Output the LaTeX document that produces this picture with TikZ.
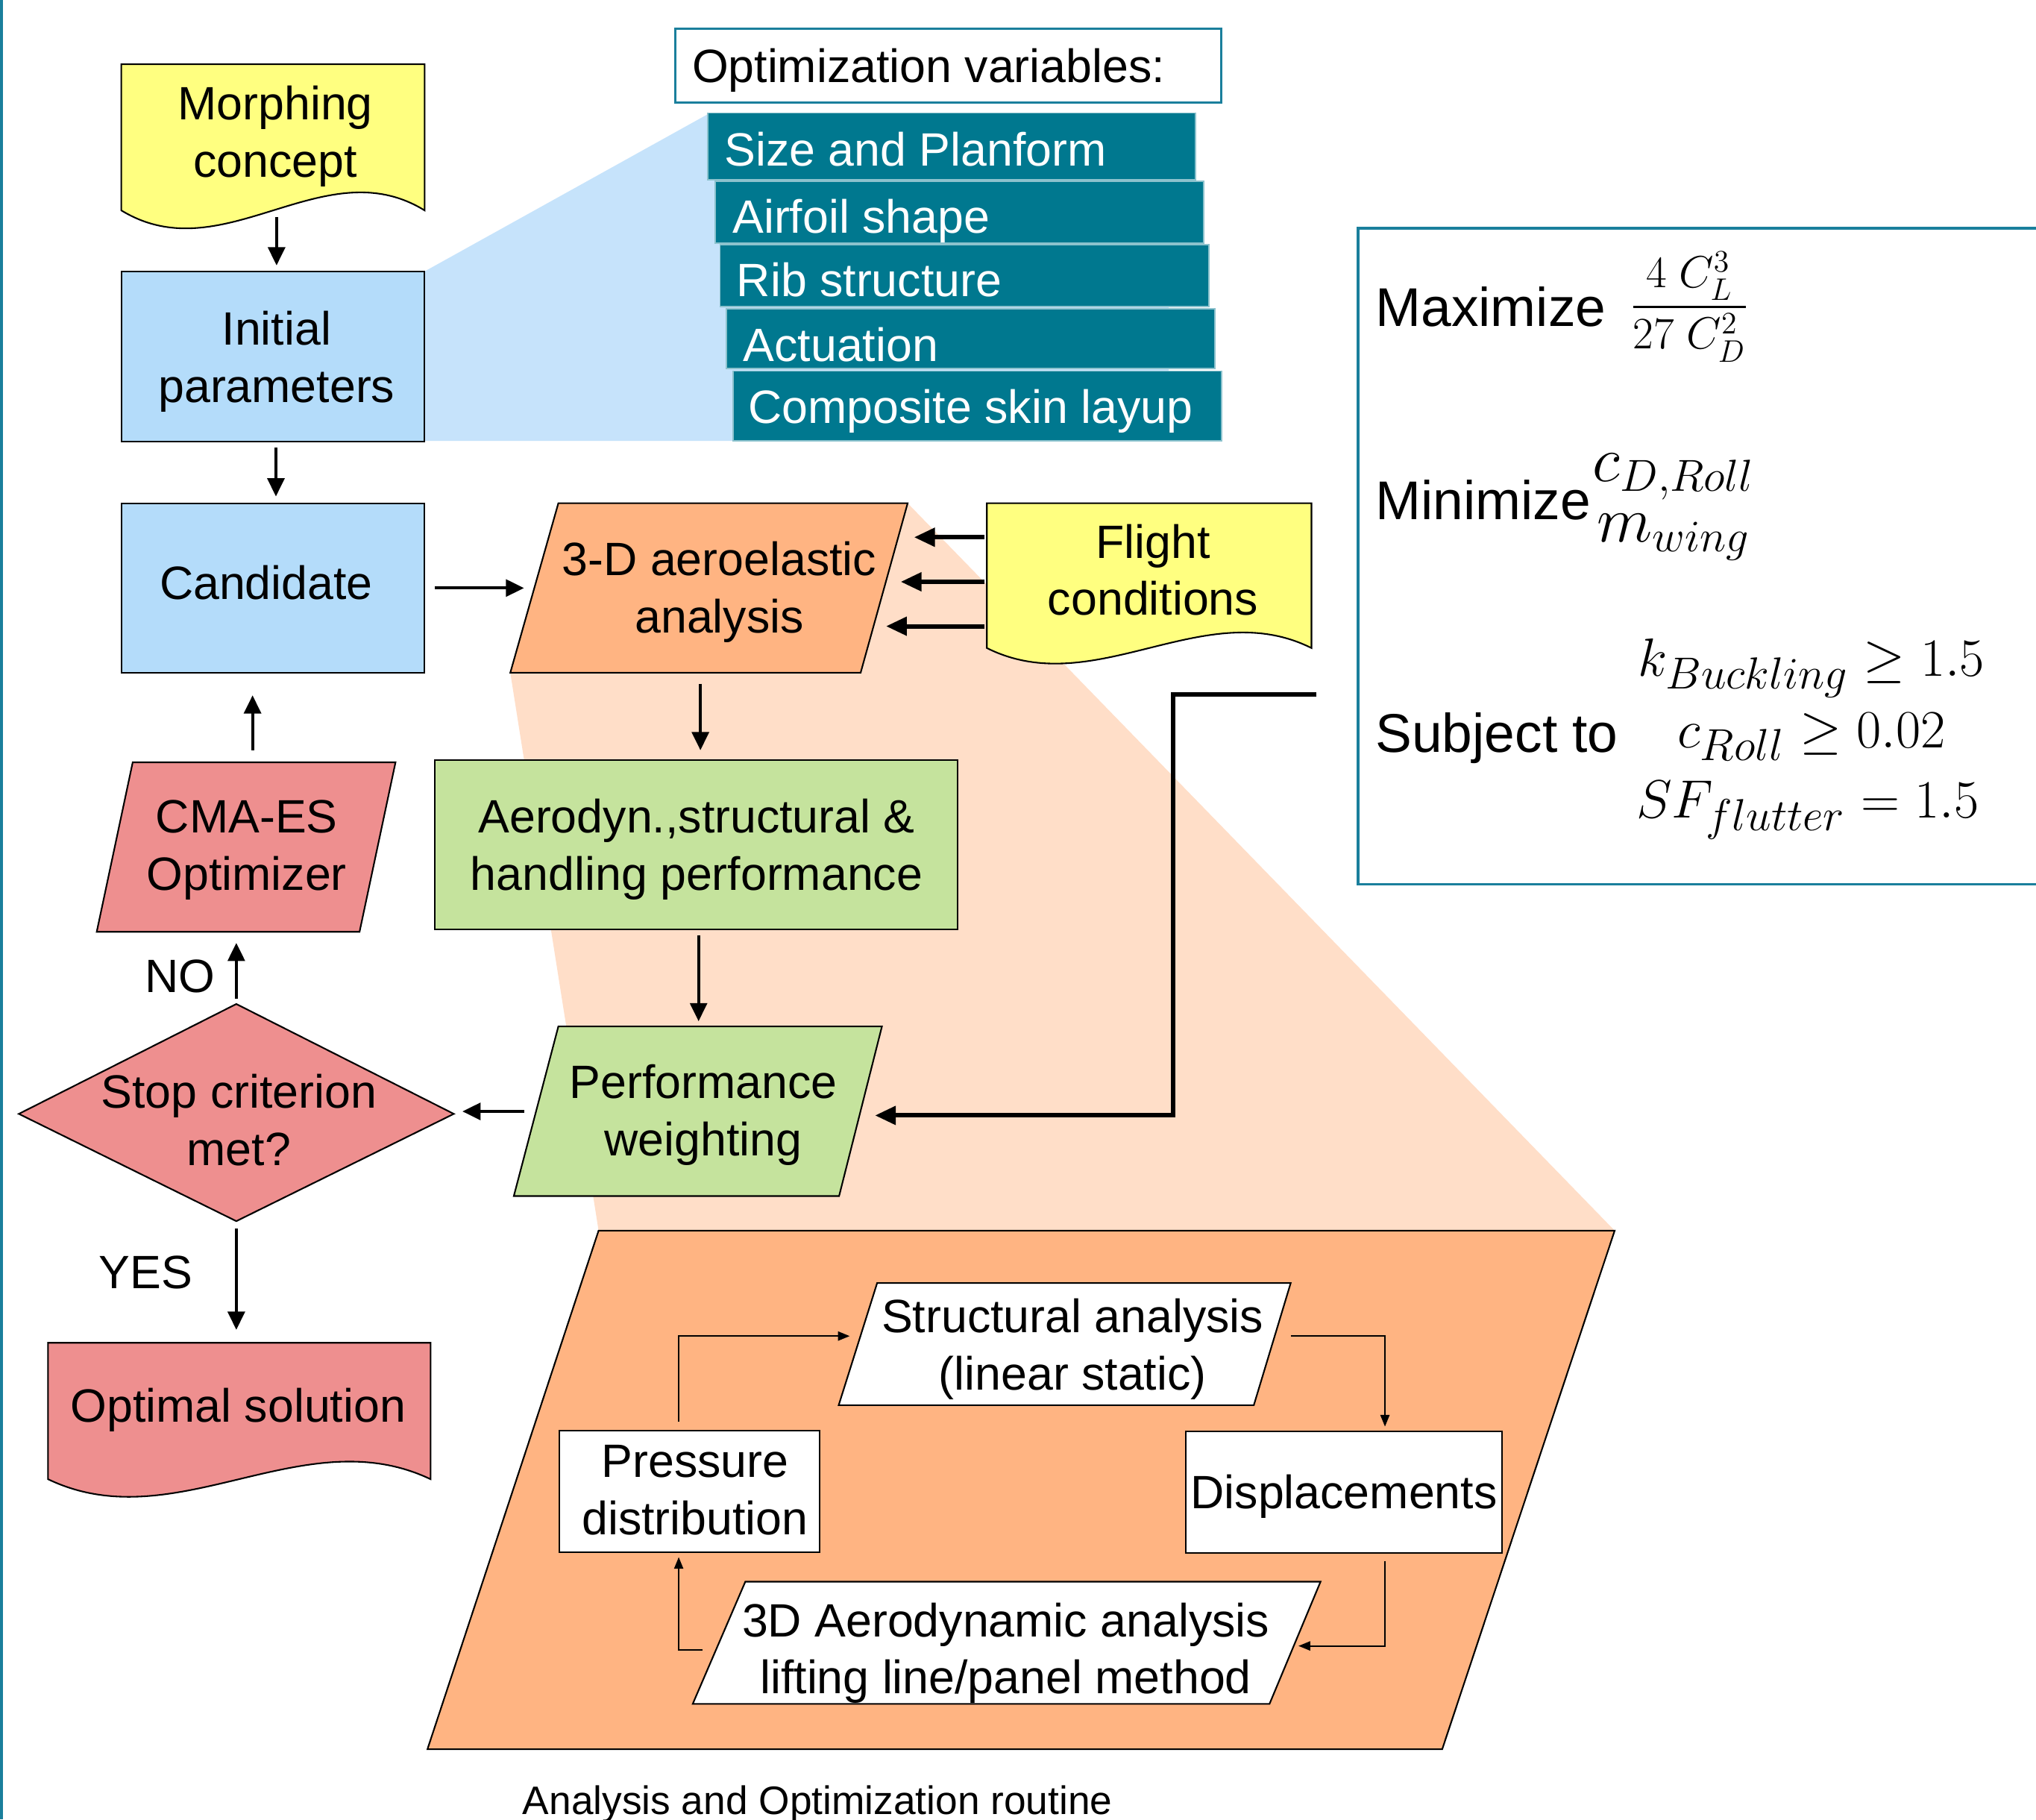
\documentclass[tikz,border=0pt]{standalone}
\usepackage{amsmath}
\usepackage{fontspec}
\setmainfont{Liberation Sans}
\usetikzlibrary{arrows.meta}
\definecolor{boxblue}{HTML}{B4DCFA}
\definecolor{callblue}{HTML}{C6E3FB}
\definecolor{varteal}{HTML}{00788F}
\definecolor{frameteal}{HTML}{1A7F9C}
\definecolor{docyellow}{HTML}{FFFF80}
\definecolor{anaorange}{HTML}{FFB482}
\definecolor{peach}{HTML}{FFDEC8}
\definecolor{perfgreen}{HTML}{C5E39D}
\definecolor{optred}{HTML}{EE8F8F}
\begin{document}
\begin{tikzpicture}[x=0.5pt,y=-0.5pt,
  bx/.style={font=\fontsize{18}{22}\selectfont, align=center, inner sep=0pt},
  lbl/.style={font=\fontsize{18}{22}\selectfont, inner sep=0pt},
  objtxt/.style={font=\fontsize{21}{25}\selectfont, inner sep=0pt, anchor=base west},
  contxt/.style={font=\fontsize{22.7}{26}\selectfont, inner sep=0pt, anchor=base},
  shp/.style={draw=black, line width=0.6pt},
  arr/.style={-{Triangle[length=7pt,width=6.5pt]}, line width=1.2pt},
  farr/.style={-{Triangle[length=8pt,width=7pt]}, line width=1.7pt},
  tarr/.style={-{Triangle[length=4.5pt,width=3.5pt]}, line width=0.6pt},
  varbox/.style={fill=varteal, draw=varteal!45!white, line width=0.5pt},
  vartxt/.style={font=\fontsize{18}{22}\selectfont, text=white, inner sep=0pt, anchor=base west}
]
\useasboundingbox (0,0) rectangle (1568,1401);
\clip (0,0) rectangle (1568,1401);
\fill[white] (0,0) rectangle (1568,1401);
\draw[frameteal, line width=1.2pt] (1,0) -- (1,1401);

% background callouts
\fill[callblue] (327,209) -- (545,88) -- (900,88) -- (900,339.5) -- (327,339.5) -- cycle;
\fill[peach] (699,387.5) -- (1243.5,947.6) -- (461,947.6) -- (393,518) -- cycle;

% optimization variables
\draw[frameteal, line width=1pt, fill=white] (520,22) rectangle (940.6,79);
\node[lbl, anchor=base west] (optvar) at (532.6,63.6) {Optimization variables:};
\draw[varbox] (545,87) rectangle (920.7,138.5);
\node[vartxt] (v1) at (557.5,127.9) {Size and Planform};
\draw[varbox] (551,139.6) rectangle (927,187.4);
\node[vartxt] (v2) at (563.8,179.4) {Airfoil shape};
\draw[varbox] (554.5,188.5) rectangle (931,236);
\node[vartxt] (v3) at (567,228.3) {Rib structure};
\draw[varbox] (559.4,237.8) rectangle (935.6,283.9);
\node[vartxt] (v4) at (572,278.2) {Actuation};
\draw[varbox] (564.4,285.7) rectangle (940.6,339.5);
\node[vartxt] (v5) at (576,326) {Composite skin layup};

% left column
\path[shp, fill=docyellow] (93.4,49.5) -- (327,49.5) -- (327,162) .. controls (249,114) and (172,210) .. (93.4,162) -- cycle;
\node[bx] (morph) at (212,105.5) {\strut Morphing\\\strut concept};
\draw[shp, fill=boxblue] (93.4,209) rectangle (327,340);
\node[bx] (init) at (213,279) {\strut Initial\\\strut parameters};
\draw[shp, fill=boxblue] (93.6,387.5) rectangle (327,518);
\node[bx] (cand) at (205,452.9) {\strut Candidate};

% 3-D aeroelastic analysis
\draw[shp, fill=anaorange] (430,387.5) -- (699,387.5) -- (662.8,518) -- (393,518) -- cycle;
\node[bx] (aero) at (554,456.3) {\strut 3-D aeroelastic\\\strut analysis};

% flight conditions
\path[shp, fill=docyellow] (760,387.5) -- (1010,387.5) -- (1010,499) .. controls (927,457.5) and (843,540.5) .. (760,499) -- cycle;
\node[bx] (flight) at (888,443) {\strut Flight\\\strut conditions};

% objective box
\draw[frameteal, line width=1pt] (1580,175.7) -- (1046,175.7) -- (1046,681) -- (1580,681);
\node[objtxt] (maxl) at (1059,251) {Maximize};
\node[anchor=base, inner sep=0pt, font=\fontsize{18}{20}\selectfont] (maxf) at (1301,245) {$\dfrac{4\;C_L^3}{27\;C_D^2}$};
\node[objtxt] (minl) at (1059,400.2) {Minimize};
\node[anchor=base, inner sep=0pt, font=\fontsize{23}{26}\selectfont] (minc) at (1289,371) {$c_{D,Roll}$};
\node[anchor=base, inner sep=0pt, font=\fontsize{23}{26}\selectfont] (minm) at (1289,417) {$m_{wing}$};
\node[objtxt] (subj) at (1059,579) {Subject to};
\node[contxt] (con1) at (1395,520.5) {$k_{Buckling}\geq 1.5$};
\node[contxt] (con2) at (1395,575.8) {$c_{Roll}\geq 0.02$};
\node[contxt] (con3) at (1392,629.8) {$SF_{flutter}=1.5$};

% aerodyn, performance
\draw[shp, fill=perfgreen] (335,585.3) rectangle (737.3,715.5);
\node[bx] (aerodyn) at (536.5,654.7) {\strut Aerodyn.,structural \&\\\strut handling performance};
\draw[shp, fill=perfgreen] (430,790.4) -- (679.2,790.4) -- (646.2,921) -- (395.7,921) -- cycle;
\node[bx] (perf) at (541.7,859) {\strut Performance\\\strut weighting};

% decision, optimizer, result
\draw[shp, fill=optred] (182,773.1) -- (349.5,857.7) -- (182,940.3) -- (14.5,857.7) -- cycle;
\node[bx] (stop) at (184,866.5) {\strut Stop criterion\\\strut met?};
\draw[shp, fill=optred] (102.2,587) -- (304.6,587) -- (276.9,717.5) -- (74.5,717.5) -- cycle;
\node[bx] (cma) at (190,654.7) {\strut CMA-ES\\\strut Optimizer};
\node[lbl, anchor=base] (no) at (138.5,764) {NO};
\node[lbl, anchor=base] (yes) at (112.2,992.3) {YES};
\path[shp, fill=optred] (37,1034) -- (331.6,1034) -- (331.6,1139) .. controls (233,1092) and (135,1186) .. (37,1139) -- cycle;
\node[bx] (opt) at (183.4,1086) {\strut Optimal solution};

% inner analysis loop
\draw[shp, fill=anaorange] (461,947.6) -- (1243.5,947.6) -- (1110.7,1346.9) -- (329.2,1346.9) -- cycle;
\draw[shp, fill=white] (675.5,988) -- (994,988) -- (965.6,1082) -- (645.9,1082) -- cycle;
\node[bx] (struct) at (826,1039.4) {\strut Structural analysis\\\strut (linear static)};
\draw[shp, fill=white] (430.7,1101.5) rectangle (631.4,1195.3);
\node[bx] (press) at (535.3,1150.9) {\strut Pressure\\\strut distribution};
\draw[shp, fill=white] (913,1102.4) rectangle (1156.6,1196);
\node[bx] (disp) at (1035,1152.6) {\strut Displacements};
\draw[shp, fill=white] (574,1217.9) -- (1017,1217.9) -- (977.7,1312) -- (533.5,1312) -- cycle;
\node[bx] (aero3d) at (774.6,1273.4) {\strut 3D Aerodynamic analysis\\\strut lifting line/panel method};
\node[anchor=base, inner sep=0pt, font=\fontsize{15.3}{18}\selectfont] (cap) at (629.6,1397) {Analysis and Optimization routine};

% connector end points
\coordinate (morphS) at (213,167);    \coordinate (initN) at (213,204.4);
\coordinate (initS) at (212.5,344.6); \coordinate (candN) at (212.5,382.3);
\coordinate (candE) at (335,452.8);   \coordinate (aeroW) at (403.6,452.8);
\coordinate (fl1) at (758,413.7);     \coordinate (ae1) at (704,413.7);
\coordinate (fl2) at (758,448);       \coordinate (ae2) at (693.7,448);
\coordinate (fl3) at (758,482.2);     \coordinate (ae3) at (682.4,482.2);
\coordinate (aeroS) at (539.4,526.5); \coordinate (adynN) at (539.4,577.7);
\coordinate (adynS) at (538,720);     \coordinate (perfN) at (538,786.4);
\coordinate (perfW) at (403.6,855.8); \coordinate (stopE) at (356.1,855.8);
\coordinate (stopN) at (182,769);     \coordinate (cmaS) at (182,726);
\coordinate (cmaN) at (194.5,577.7);  \coordinate (candS) at (194.5,535.4);
\coordinate (stopS) at (182,946);     \coordinate (optN) at (182,1024);
\coordinate (objW) at (1014,534.6);   \coordinate (bendA) at (903.4,534.6);
\coordinate (bendB) at (903.4,858.9); \coordinate (perfE) at (673.9,858.9);
\coordinate (pressN) at (522.7,1094.8); \coordinate (cA) at (522.7,1028.8); \coordinate (structW) at (654.4,1028.8);
\coordinate (structE) at (994,1028.8); \coordinate (cB) at (1066.6,1028.8); \coordinate (dispN) at (1066.6,1098.5);
\coordinate (dispS) at (1066.6,1202); \coordinate (cC) at (1066.6,1267.4); \coordinate (a3dE) at (1000,1267.4);
\coordinate (a3dW) at (540.8,1270.4); \coordinate (cD) at (522.7,1270.4); \coordinate (pressS) at (522.7,1199);

% connectors
\draw[arr] (morphS) -- (initN);
\draw[arr] (initS) -- (candN);
\draw[arr] (candE) -- (aeroW);
\draw[farr] (fl1) -- (ae1);
\draw[farr] (fl2) -- (ae2);
\draw[farr] (fl3) -- (ae3);
\draw[arr] (aeroS) -- (adynN);
\draw[arr] (adynS) -- (perfN);
\draw[arr] (perfW) -- (stopE);
\draw[arr] (stopN) -- (cmaS);
\draw[arr] (cmaN) -- (candS);
\draw[arr] (stopS) -- (optN);
\draw[farr] (objW) -- (bendA) -- (bendB) -- (perfE);
\draw[tarr] (pressN) -- (cA) -- (structW);
\draw[tarr] (structE) -- (cB) -- (dispN);
\draw[tarr] (dispS) -- (cC) -- (a3dE);
\draw[tarr] (a3dW) -- (cD) -- (pressS);
\end{tikzpicture}
\end{document}
